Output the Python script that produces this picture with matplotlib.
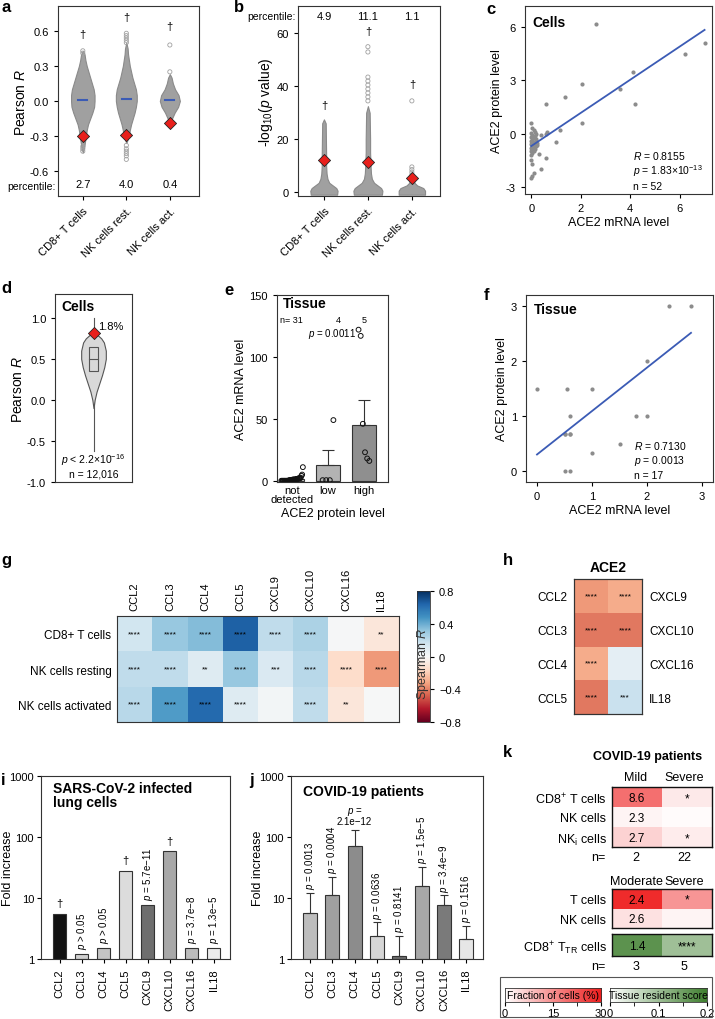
import numpy as np
import matplotlib
matplotlib.use("Agg")
import matplotlib.pyplot as plt
from matplotlib.colors import LinearSegmentedColormap
from matplotlib.patches import Rectangle

plt.rcParams["font.family"] = ["Liberation Sans", "DejaVu Sans"]
plt.rcParams["mathtext.fontset"] = "custom"
plt.rcParams["mathtext.rm"] = "Liberation Sans"
plt.rcParams["mathtext.it"] = "Liberation Sans:italic"
plt.rcParams["mathtext.bf"] = "Liberation Sans:bold"
plt.rcParams["axes.unicode_minus"] = False
plt.rcParams["font.size"] = 8
plt.rcParams["axes.linewidth"] = 0.8
plt.rcParams["axes.edgecolor"] = "#333333"
plt.rcParams["xtick.major.size"] = 3
plt.rcParams["ytick.major.size"] = 3
plt.rcParams["xtick.labelsize"] = 8
plt.rcParams["ytick.labelsize"] = 8

# ---------------- data ----------------
CELL_TYPES = ["CD8+ T cells", "NK cells rest.", "NK cells act."]

# a: Pearson R swarms (outline level / half width), ACE2 marker, percentiles
A_SWARM_Y = [
    [-0.44, -0.40, -0.35, -0.30, -0.25, -0.20, -0.15, -0.10, -0.05, 0.00, 0.05, 0.10, 0.15, 0.20, 0.25, 0.30, 0.35, 0.40, 0.43],
    [-0.36, -0.30, -0.25, -0.20, -0.15, -0.10, -0.05, 0.00, 0.05, 0.10, 0.15, 0.20, 0.25, 0.30, 0.35, 0.40, 0.45, 0.50],
    [-0.19, -0.15, -0.10, -0.05, 0.00, 0.05, 0.10, 0.15, 0.20, 0.23],
]
A_SWARM_W = [
    [0.00, 0.03, 0.05, 0.07, 0.09, 0.12, 0.17, 0.22, 0.26, 0.27, 0.27, 0.25, 0.21, 0.17, 0.13, 0.09, 0.06, 0.04, 0.00],
    [0.00, 0.06, 0.08, 0.11, 0.15, 0.19, 0.22, 0.24, 0.24, 0.22, 0.18, 0.14, 0.11, 0.08, 0.06, 0.04, 0.03, 0.00],
    [0.00, 0.05, 0.11, 0.19, 0.23, 0.20, 0.12, 0.07, 0.04, 0.00],
]
A_OUTLIERS = [
    [0.41, 0.43, -0.39, -0.41, -0.43],
    [0.50, 0.52, 0.54, 0.56, 0.58, -0.38, -0.41, -0.43, -0.45, -0.47, -0.50],
    [0.25, 0.48],
]
A_MEDIAN = [0.01, 0.02, 0.005]
A_ACE2 = [-0.30, -0.29, -0.19]
A_DAGGER = [0.57, 0.72, 0.64]
A_PCT = ["2.7", "4.0", "0.4"]

# b: -log10 p swarms
B_SWARM_Y = [
    [-1, 0.5, 1.5, 2.5, 3.5, 5, 7, 10, 14, 20, 26, 27.5],
    [-1, 0.5, 1.5, 2.5, 3.5, 5, 7, 10, 15, 20, 25, 30, 32.5],
    [-1, 0.5, 1.5, 2.5, 3.5, 4.5, 5.5],
]
B_SWARM_W = [
    [0.30, 0.31, 0.28, 0.20, 0.12, 0.08, 0.06, 0.05, 0.05, 0.045, 0.04, 0.0],
    [0.32, 0.33, 0.30, 0.22, 0.14, 0.09, 0.07, 0.06, 0.05, 0.05, 0.045, 0.04, 0.0],
    [0.30, 0.30, 0.26, 0.12, 0.06, 0.05, 0.0],
]
B_OUTLIERS = [[], [34.5, 36, 37.5, 39, 40.5, 42, 43.5, 53, 55], [6.5, 7.5, 8.5, 9.5, 34.5]]
B_ACE2 = [12.3, 11.5, 5.3]
B_DAGGER = [33, 61, 41]
B_PCT = ["4.9", "11.1", "1.1"]

# c: cells, ACE2 mRNA vs protein
C_MRNA = [2.6, 7.0, 6.2, 4.1, 2.05, 3.6, 1.35, 4.2, 0.6, 2.05, 1.15, 0.65, 0.6, 0.4, 1.0, 0.3, 0.6, 0.4,
          0.0, 0.05, 0.1, 0.0, 0.05, 0.15, 0.0, 0.1, 0.2, 0.05, 0.0, 0.15, 0.1, 0.25, 0.0, 0.05, 0.2,
          0.1, 0.0, 0.15, 0.05, 0.0, 0.1, 0.05, 0.0, 0.0, 0.05, 0.1, 0.05, 0.0, 0.25, 0.2, 0.15, 0.1]
C_PROT = [6.2, 5.1, 4.5, 3.5, 2.8, 2.5, 2.05, 1.7, 1.65, 0.6, 0.2, 0.1, 0.0, -0.1, -0.45, -1.15, -1.35, -2.0,
          0.6, 0.3, 0.2, 0.05, -0.1, -0.15, -0.2, -0.25, -0.3, -0.35, -0.4, -0.45, -0.5, -0.55, -0.6, -0.65, -0.7,
          -0.75, -0.8, -0.85, -0.9, -0.95, -1.0, -1.1, -1.2, -1.5, -1.7, -2.2, -2.4, -2.5, -0.65, 0.0, 0.1, -0.6]
C_FIT = (-0.7, 0.936)  # intercept, slope

# d: distribution of Pearson R over genes
D_VIOLIN_Y = [-0.1, 0.0, 0.1, 0.2, 0.3, 0.4, 0.5, 0.6, 0.7, 0.75, 0.8, 0.85]
D_VIOLIN_W = [0.0, 0.03, 0.08, 0.15, 0.22, 0.28, 0.32, 0.32, 0.27, 0.20, 0.08, 0.0]
D_BOX = (0.35, 0.50, 0.65)
D_RANGE = (-0.62, 1.0)
D_ACE2 = 0.82

# e: tissue, mRNA by protein level
E_GROUPS = ["not\ndetected", "low", "high"]
E_POINTS = [
    [0, 0, 0, 0, 0, 0, 0, 0, 0, 0, 0, 0.5, 0.5, 0.5, 0.5, 0.5, 1, 1, 1, 1, 1, 1.5, 1.5, 1.5, 2, 2, 2, 2.5, 4, 5, 11],
    [0.5, 0.5, 0.5, 49],
    [122, 117, 46, 23, 18, 16],
]
E_MEAN = [1.5, 12.6, 45]
E_SEM_TOP = [2.0, 25, 65]

# f: tissue, mRNA vs protein
F_MRNA = [2.4, 2.8, 2.0, 0.6, 1.8, 2.0, 0.5, 0.6, 1.5, 1.0, 0.5, 0.6, 0.0, 0.55, 1.0, 0.6, 0.5]
F_PROT = [3.0, 3.0, 2.0, 1.0, 1.0, 1.0, 0.67, 0.67, 0.5, 0.33, 0.0, 0.0, 1.5, 1.5, 1.5, 0.67, 0.67]
F_FIT = (0.3, 0.79)

# g: Spearman R heatmap
CHEMOKINES = ["CCL2", "CCL3", "CCL4", "CCL5", "CXCL9", "CXCL10", "CXCL16", "IL18"]
G_ROWS = ["CD8+ T cells", "NK cells resting", "NK cells activated"]
G_R = [
    [0.15, 0.30, 0.35, 0.65, 0.20, 0.25, 0.01, -0.10],
    [0.20, 0.20, 0.10, 0.30, 0.12, 0.22, -0.15, -0.35],
    [0.22, 0.45, 0.62, 0.10, 0.02, 0.20, -0.10, 0.00],
]
G_STARS = [
    ["****", "****", "****", "****", "****", "****", "", "**"],
    ["****", "****", "**", "****", "***", "****", "****", "****"],
    ["****", "****", "****", "****", "", "****", "**", ""],
]

# h: ACE2 vs chemokines
H_LEFT = ["CCL2", "CCL3", "CCL4", "CCL5"]
H_RIGHT = ["CXCL9", "CXCL10", "CXCL16", "IL18"]
H_R = [[-0.35, -0.30], [-0.42, -0.42], [-0.30, 0.08], [-0.42, 0.18]]
H_STARS = [["****", "****"], ["****", "****"], ["****", ""], ["****", "***"]]

# i: infected lung cells
I_FOLD = [5.5, 1.2, 1.5, 28, 7.8, 58, 1.5, 1.5]
I_COLORS = ["#111111", "#d0d0d0", "#c4c4c4", "#dcdcdc", "#6e6e6e", "#a8a8a8", "#bdbdbd", "#ececec"]
I_NOTE = ["†", "$p$ > 0.05", "$p$ > 0.05", "†", "$p$ = 5.7e−11", "†", "$p$ = 3.7e−8", "$p$ = 1.3e−5"]

# j: COVID-19 patients
J_FOLD = [5.7, 11, 70, 2.4, 1.1, 16, 7.7, 2.1]
J_ERR_TOP = [12, 22, 130, 4.0, 2.4, 32, 11, 3.5]
J_COLORS = ["#bdbdbd", "#a0a0a0", "#8c8c8c", "#d6d6d6", "#6e6e6e", "#a8a8a8", "#7a7a7a", "#e6e6e6"]
J_NOTE = ["$p$ = 0.0013", "$p$ = 0.0004", "$p$ =\n2.1e−12", "$p$ = 0.0636", "$p$ = 0.8141",
          "$p$ = 1.5e−5", "$p$ = 3.4e−9", "$p$ = 0.1516"]

# k: fraction of cells / tissue resident score
K1_ROWS = ["CD8$^{+}$ T cells", "NK cells", "NK$_{\\rm i}$ cells"]
K1_FRAC = [[19, 3], [1.5, 0.5], [6, 2.5]]
K1_TEXT = [["8.6", "*"], ["2.3", ""], ["2.7", "*"]]
K1_N = ["2", "22"]
K2_ROWS = ["T cells", "NK cells"]
K2_FRAC = [[28, 14], [4, 1.5]]
K2_TEXT = [["2.4", "*"], ["2.6", ""]]
K3_SCORE = [[0.17, 0.10]]
K3_TEXT = [["1.4", "****"]]
K2_N = ["3", "5"]

# ---------------- layout helpers ----------------
W, H = 715, 1020
fig = plt.figure(figsize=(W / 100, H / 100), dpi=100)


def px_axes(x0, y0, x1, y1):
    return fig.add_axes([x0 / W, 1 - y1 / H, (x1 - x0) / W, (y1 - y0) / H])


def px_text(x, y, s, **kw):
    return fig.text(x / W, 1 - y / H, s, **kw)


def letter(x, y, s):
    px_text(x, y, s, fontsize=12, fontweight="bold", va="top", ha="left")


BLUE = "#3b5bb5"
RED = "#e8201c"

# ---------------- a ----------------
ax = px_axes(58, 7, 199, 197)
for i in range(3):
    y = np.array(A_SWARM_Y[i])
    w = np.array(A_SWARM_W[i])
    ax.fill_betweenx(y, i - w, i + w, facecolor="#a0a0a0", edgecolor="#8a8a8a", lw=0.8, zorder=2)
    ax.scatter([i] * len(A_OUTLIERS[i]), A_OUTLIERS[i], s=9, facecolor="none", edgecolor="#a0a0a0", lw=0.6, zorder=2)
    ax.plot([i - 0.1, i + 0.1], [A_MEDIAN[i]] * 2, color=BLUE, lw=1.5, zorder=3)
    ax.scatter([i], [A_ACE2[i]], marker="D", s=38, facecolor=RED, edgecolor="#222222", lw=0.6, zorder=4)
    ax.text(i, A_DAGGER[i], "†", ha="center", va="center", fontsize=8)
    ax.text(i, -0.71, A_PCT[i], ha="center", va="center", fontsize=8)
ax.set_xlim(-0.57, 2.67)
ax.set_ylim(-0.814, 0.814)
ax.set_yticks([-0.6, -0.3, 0.0, 0.3, 0.6])
ax.set_yticklabels(["-0.6", "-0.3", "0.0", "0.3", "0.6"])
ax.set_xticks(range(3))
ax.set_xticklabels(CELL_TYPES, rotation=45, ha="right", rotation_mode="anchor")
ax.set_ylabel("Pearson $R$", fontsize=10, labelpad=1)
ax.text(-0.02, 0.055, "percentile:", transform=ax.transAxes, ha="right", va="center", fontsize=7.5)
letter(1, 0, "a")

# ---------------- b ----------------
ax = px_axes(298, 7, 440, 197)
for i in range(3):
    y = np.array(B_SWARM_Y[i])
    w = np.array(B_SWARM_W[i])
    ax.fill_betweenx(y, i - w, i + w, facecolor="#a0a0a0", edgecolor="#8a8a8a", lw=0.8, zorder=2)
    ax.scatter([i] * len(B_OUTLIERS[i]), B_OUTLIERS[i], s=9, facecolor="none", edgecolor="#a0a0a0", lw=0.6, zorder=2)
    ax.scatter([i], [B_ACE2[i]], marker="D", s=38, facecolor=RED, edgecolor="#222222", lw=0.6, zorder=4)
    ax.text(i, B_DAGGER[i], "†", ha="center", va="center", fontsize=8)
    ax.text(i, 66.5, B_PCT[i], ha="center", va="center", fontsize=8)
ax.set_xlim(-0.59, 2.64)
ax.set_ylim(-1.5, 70.4)
ax.set_yticks([0, 20, 40, 60])
ax.set_xticks(range(3))
ax.set_xticklabels(CELL_TYPES, rotation=45, ha="right", rotation_mode="anchor")
ax.set_ylabel("-log$_{10}$($p$ value)", fontsize=10, labelpad=1)
ax.text(-0.02, 0.945, "percentile:", transform=ax.transAxes, ha="right", va="center", fontsize=7.5)
letter(234, 0, "b")

# ---------------- c ----------------
ax = px_axes(525, 7, 712, 195)
ax.scatter(C_MRNA, C_PROT, s=9, color="#8c8c8c", lw=0, zorder=2)
xx = np.array([0, 7.0])
ax.plot(xx, C_FIT[0] + C_FIT[1] * xx, color=BLUE, lw=1.3, zorder=3)
ax.set_xlim(-0.25, 7.3)
ax.set_ylim(-3.4, 7.2)
ax.set_xticks([0, 2, 4, 6])
ax.set_yticks([-3, 0, 3, 6])
ax.set_yticklabels(["-3", "0", "3", "6"])
ax.set_xlabel("ACE2 mRNA level", fontsize=9, labelpad=2)
ax.set_ylabel("ACE2 protein level", fontsize=9, labelpad=2)
ax.text(0.04, 0.915, "Cells", transform=ax.transAxes, fontsize=10, fontweight="bold", va="center")
ax.text(0.58, 0.21, "$R$ = 0.8155", transform=ax.transAxes, fontsize=7.5, va="center")
ax.text(0.58, 0.125, "$p$ = 1.83×10$^{-13}$", transform=ax.transAxes, fontsize=7.5, va="center")
ax.text(0.58, 0.045, "n = 52", transform=ax.transAxes, fontsize=7.5, va="center")
letter(486, 2, "c")

# ---------------- d ----------------
ax = px_axes(55, 295, 132, 483)
ax.plot([0, 0], D_RANGE, color="#555555", lw=0.8, zorder=1)
dy = np.array(D_VIOLIN_Y)
dw = np.array(D_VIOLIN_W)
ax.fill_betweenx(dy, -dw, dw, facecolor="#d9d9d9", edgecolor="#555555", lw=0.8, zorder=2)
ax.add_patch(Rectangle((-0.12, D_BOX[0]), 0.24, D_BOX[2] - D_BOX[0], facecolor="#d9d9d9",
                       edgecolor="#555555", lw=0.8, zorder=3))
ax.plot([-0.12, 0.12], [D_BOX[1]] * 2, color="#555555", lw=0.8, zorder=4)
ax.scatter([0], [D_ACE2], marker="D", s=38, facecolor=RED, edgecolor="#222222", lw=0.6, zorder=5)
ax.text(0.12, D_ACE2 + 0.08, "1.8%", fontsize=8, va="center")
ax.set_xlim(-1, 1)
ax.set_ylim(-1.0, 1.29)
ax.set_xticks([])
ax.set_yticks([-1.0, -0.5, 0.0, 0.5, 1.0])
ax.set_yticklabels(["-1.0", "-0.5", "0.0", "0.5", "1.0"])
ax.set_ylabel("Pearson $R$", fontsize=10, labelpad=1)
ax.text(0.08, 0.935, "Cells", transform=ax.transAxes, fontsize=10, fontweight="bold", va="center")
ax.text(0.5, 0.12, "$p$ < 2.2×10$^{-16}$", transform=ax.transAxes, fontsize=7.5, ha="center", va="center")
ax.text(0.5, 0.045, "n = 12,016", transform=ax.transAxes, fontsize=7.5, ha="center", va="center")
letter(1, 281, "d")

# ---------------- e ----------------
ax = px_axes(277, 296, 388, 483)
bar_cols = ["#d0d0d0", "#b3b3b3", "#8f8f8f"]
ax.bar(range(3), E_MEAN, width=0.65, color=bar_cols, edgecolor="#333333", lw=0.8, zorder=2)
ax.errorbar(range(3), E_MEAN, yerr=[[0, 0, 0], np.array(E_SEM_TOP) - np.array(E_MEAN)],
            fmt="none", ecolor="#333333", elinewidth=0.8, capsize=4, capthick=0.8, zorder=2)
for i, pts in enumerate(E_POINTS):
    n = len(pts)
    offs = np.linspace(-0.3, 0.3, n) if n > 6 else np.linspace(-0.15, 0.15, n)
    ax.scatter(i + offs, pts, s=12, facecolor="none", edgecolor="#111111", lw=0.7, zorder=3)
ax.set_xlim(-0.42, 2.67)
ax.set_ylim(-1, 150)
ax.set_yticks([0, 50, 100, 150])
ax.set_xticks(range(3))
ax.set_xticklabels(E_GROUPS, linespacing=0.95)
ax.tick_params(axis="x", length=0, pad=2)
ax.set_xlabel("ACE2 protein level", fontsize=9, labelpad=2)
ax.set_ylabel("ACE2 mRNA level", fontsize=9, labelpad=2)
ax.text(0.05, 0.955, "Tissue", transform=ax.transAxes, fontsize=10, fontweight="bold", va="center")
ax.text(-0.34, 130.5, "n= 31", fontsize=6.5, ha="left", va="center")
ax.text(1.28, 130.5, "4", fontsize=6.5, ha="center", va="center")
ax.text(2.0, 130.5, "5", fontsize=6.5, ha="center", va="center")
ax.text(0.45, 119.5, "$p$ = 0.0011", fontsize=7, ha="left", va="center")
letter(224, 283, "e")

# ---------------- f ----------------
ax = px_axes(526, 296, 713, 483)
ax.scatter(F_MRNA, F_PROT, s=9, color="#8c8c8c", lw=0, zorder=2)
xx = np.array([0, 2.8])
ax.plot(xx, F_FIT[0] + F_FIT[1] * xx, color=BLUE, lw=1.3, zorder=3)
ax.set_xlim(-0.2, 3.2)
ax.set_ylim(-0.2, 3.2)
ax.set_xticks([0, 1, 2, 3])
ax.set_yticks([0, 1, 2, 3])
ax.set_xlabel("ACE2 mRNA level", fontsize=9, labelpad=2)
ax.set_ylabel("ACE2 protein level", fontsize=9, labelpad=2)
ax.text(0.04, 0.925, "Tissue", transform=ax.transAxes, fontsize=10, fontweight="bold", va="center")
ax.text(0.58, 0.20, "$R$ = 0.7130", transform=ax.transAxes, fontsize=7.5, va="center")
ax.text(0.58, 0.12, "$p$ = 0.0013", transform=ax.transAxes, fontsize=7.5, va="center")
ax.text(0.58, 0.04, "n = 17", transform=ax.transAxes, fontsize=7.5, va="center")
letter(484, 288, "f")

# ---------------- g ----------------
ax = px_axes(117, 617, 399, 723)
mesh = ax.pcolormesh(np.array(G_R), cmap="RdBu", vmin=-0.8, vmax=0.8)
ax.set_xlim(0, 8)
ax.set_ylim(3, 0)
for r in range(3):
    for c in range(8):
        ax.text(c + 0.5, r + 0.5, G_STARS[r][c], ha="center", va="center", fontsize=6)
ax.set_xticks(np.arange(8) + 0.5)
ax.set_xticklabels(CHEMOKINES, rotation=90)
ax.xaxis.tick_top()
ax.set_yticks(np.arange(3) + 0.5)
ax.set_yticklabels(G_ROWS, fontsize=8.5)
ax.tick_params(length=0, pad=4)
cax = px_axes(417, 592, 430, 723)
cb = fig.colorbar(mesh, cax=cax, ticks=[-0.8, -0.4, 0, 0.4, 0.8])
cb.ax.set_yticklabels(["−0.8", "−0.4", "0", "0.4", "0.8"])
cb.outline.set_linewidth(0.6)
cb.ax.tick_params(length=3, labelsize=8)
cax.text(0.5, 0.45, "Spearman $R$", transform=cax.transAxes, rotation=90, ha="center", va="center",
         fontsize=9, color="#333333")
letter(1, 553, "g")

# ---------------- h ----------------
ax = px_axes(574, 580, 642, 715)
ax.pcolormesh(np.array(H_R), cmap="RdBu", vmin=-0.8, vmax=0.8)
ax.set_xlim(0, 2)
ax.set_ylim(4, 0)
for r in range(4):
    for c in range(2):
        ax.text(c + 0.5, r + 0.5, H_STARS[r][c], ha="center", va="center", fontsize=6)
ax.set_yticks(np.arange(4) + 0.5)
ax.set_yticklabels(H_LEFT, fontsize=8.5)
ax.set_xticks([])
ax.tick_params(length=0, pad=5)
ax2 = ax.twinx()
ax2.set_ylim(4, 0)
ax2.set_yticks(np.arange(4) + 0.5)
ax2.set_yticklabels(H_RIGHT, fontsize=8.5)
ax2.tick_params(length=0, pad=5)
ax.set_title("ACE2", fontsize=10, fontweight="bold", pad=6)
letter(503, 553, "h")


# ---------------- i ----------------
def fold_axes(ax, width_px):
    ax.set_yscale("log")
    ax.set_ylim(1, 1000)
    ax.set_yticks([1, 10, 100, 1000])
    ax.set_yticklabels(["1", "10", "100", "1000"])
    ax.minorticks_off()
    ax.tick_params(axis="y", pad=2)
    ax.set_xticks(range(8))
    ax.set_xticklabels(CHEMOKINES, rotation=90)
    ax.set_xlim(-0.85, 7.75)
    ax.set_ylabel("Fold increase", fontsize=9)
    ax.yaxis.set_label_coords(-27 / width_px, 0.5)


ax = px_axes(41, 777, 230, 960)
ax.bar(range(8), np.array(I_FOLD) - 1, bottom=1, width=0.62, color=I_COLORS, edgecolor="#333333", lw=0.8)
for i, s in enumerate(I_NOTE):
    if s == "†":
        ax.text(i, I_FOLD[i] * 1.25, s, ha="center", va="bottom", fontsize=8)
    else:
        ax.text(i, I_FOLD[i] * 1.2, s, ha="center", va="bottom", rotation=90, fontsize=7)
fold_axes(ax, 189)
ax.text(0.065, 0.975, "SARS-CoV-2 infected\nlung cells", transform=ax.transAxes, fontsize=10,
        fontweight="bold", va="top", linespacing=1.0)
letter(1, 773, "i")

# ---------------- j ----------------
ax = px_axes(291, 777, 483, 960)
ax.bar(range(8), np.array(J_FOLD) - 1, bottom=1, width=0.62, color=J_COLORS, edgecolor="#333333", lw=0.8)
ax.errorbar(range(8), J_FOLD, yerr=[np.zeros(8), np.array(J_ERR_TOP) - np.array(J_FOLD)], fmt="none",
            ecolor="#333333", elinewidth=0.8, capsize=3, capthick=0.8)
for i, s in enumerate(J_NOTE):
    if "\n" in s:
        ax.text(i, J_ERR_TOP[i] * 1.15, s, ha="center", va="bottom", fontsize=7, linespacing=0.95)
    else:
        ax.text(i, J_ERR_TOP[i] * 1.15, s, ha="center", va="bottom", rotation=90, fontsize=7)
fold_axes(ax, 192)
ax.text(0.06, 0.92, "COVID-19 patients", transform=ax.transAxes, fontsize=10, fontweight="bold", va="center")
letter(249, 773, "j")

# ---------------- k ----------------
reds = LinearSegmentedColormap.from_list("frac", ["#ffffff", "#ee1c1c"])
greens = LinearSegmentedColormap.from_list("trs", ["#ffffff", "#3f7f2f"])


def k_block(y0, y1, vals, texts, cmap, vmax, rows):
    ax = px_axes(612, y0, 712, y1)
    ax.pcolormesh(np.array(vals), cmap=cmap, vmin=0, vmax=vmax)
    nr = len(vals)
    ax.set_xlim(0, 2)
    ax.set_ylim(nr, 0)
    for r in range(nr):
        for c in range(2):
            ax.text(c + 0.5, r + 0.55, texts[r][c], ha="center", va="center", fontsize=8.5)
    ax.set_xticks([])
    ax.set_yticks(np.arange(nr) + 0.5)
    ax.set_yticklabels(rows, fontsize=9)
    ax.tick_params(length=0, pad=4)
    for s in ax.spines.values():
        s.set_linewidth(1.0)
        s.set_color("#111111")
    return ax


px_text(648, 757, "COVID-19 patients", fontsize=9, fontweight="bold", ha="center", va="center")
px_text(636, 778, "Mild", fontsize=9, ha="center", va="center")
px_text(684, 778, "Severe", fontsize=9, ha="center", va="center")
k_block(788, 848, K1_FRAC, K1_TEXT, reds, 30, K1_ROWS)
px_text(605, 858, "n=", fontsize=9, ha="right", va="center")
px_text(636, 858, K1_N[0], fontsize=9, ha="center", va="center")
px_text(684, 858, K1_N[1], fontsize=9, ha="center", va="center")
px_text(636, 882, "Moderate", fontsize=9, ha="center", va="center")
px_text(684, 882, "Severe", fontsize=9, ha="center", va="center")
k_block(890, 929, K2_FRAC, K2_TEXT, reds, 30, K2_ROWS)
k_block(935, 957, K3_SCORE, K3_TEXT, greens, 0.2, ["CD8$^{+}$ T$_{\\rm TR}$ cells"])
px_text(605, 967, "n=", fontsize=9, ha="right", va="center")
px_text(636, 967, K2_N[0], fontsize=9, ha="center", va="center")
px_text(684, 967, K2_N[1], fontsize=9, ha="center", va="center")

# legend bars
fig.add_artist(Rectangle((500 / W, 1 - 1018 / H), 212 / W, 40 / H, transform=fig.transFigure,
                         facecolor="none", edgecolor="#555555", lw=0.8))
grad = np.linspace(0, 1, 256)[None, :]
lax = px_axes(505, 989, 601, 1003)
lax.imshow(grad, cmap=reds, aspect="auto", extent=(0, 30, 0, 1))
lax.set_yticks([])
lax.set_xticks([0, 15, 30])
lax.set_xticks([7.5, 22.5], minor=True)
lax.tick_params(labelsize=8, length=3, pad=1, which="both")
lax.text(15, 0.5, "Fraction of cells (%)", fontsize=7.5, ha="center", va="center")
gax = px_axes(610, 989, 707, 1003)
gax.imshow(grad, cmap=greens, aspect="auto", extent=(0, 0.2, 0, 1))
gax.set_yticks([])
gax.set_xticks([0, 0.1, 0.2])
gax.set_xticks([0.05, 0.15], minor=True)
gax.set_xticklabels(["0", "0.1", "0.2"])
gax.tick_params(labelsize=8, length=3, pad=1, which="both")
gax.text(0.1, 0.5, "Tissue resident score", fontsize=7.5, ha="center", va="center")
for a_ in (lax, gax):
    for s in a_.spines.values():
        s.set_linewidth(0.6)
letter(503, 745, "k")

fig.savefig("out.png", dpi=100)
